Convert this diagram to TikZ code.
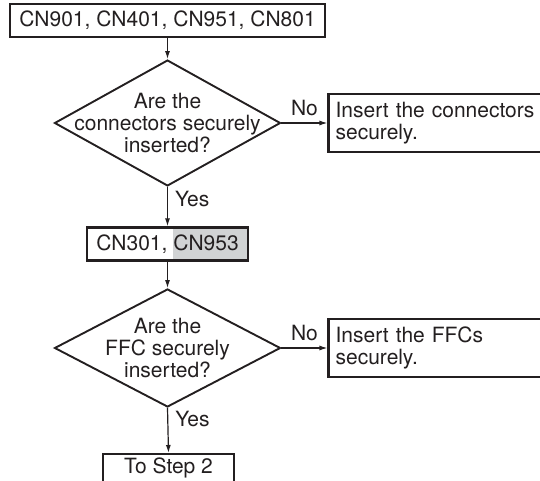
\documentclass[tikz,border=0pt]{standalone}
\usepackage{fontspec}
\setmainfont{TeX Gyre Heros}
\usepackage{xcolor}
\definecolor{inkblack}{RGB}{35,31,32}
\definecolor{markgray}{RGB}{209,211,212}
\usepackage{tikz}
\usetikzlibrary{arrows.meta, positioning, shapes.geometric, calc, backgrounds}

\begin{document}
\begin{tikzpicture}[
  x=1pt, y=-1pt,
  every node/.style={font=\fontsize{21}{22}\selectfont, text=inkblack},
  conn/.style={
    rectangle, draw=inkblack, line width=2.3pt,
    minimum height=33pt, inner xsep=9pt
  },
  check/.style={
    diamond, draw=inkblack, line width=1.9pt,
    minimum width=226pt, minimum height=118pt,
    inner sep=-30pt, align=center
  },
  fix/.style={
    rectangle, draw=inkblack, line width=2.3pt, anchor=west,
    minimum height=58pt, text width=250pt, inner sep=7pt, align=left
  },
  arr/.style={-{Latex[length=8pt,width=5pt]}, line width=1.2pt, draw=inkblack},
  lbl/.style={inner sep=7pt},
]
\useasboundingbox (0,0) rectangle (540,481);

%% Connectors
\node[conn]  (ports)     at (167.5, 20.5) {CN901, CN401, CN951, CN801};
\node[check] (seated)    at (167.5,123)   {Are the\\connectors securely\\inserted?};
\node[fix, right=46pt of seated] (reseat) {Insert the connectors\\securely.};

%% FFCs
\node[conn]  (ffcports)  at (167.5,244)   {CN301, CN953};
\node[check] (ffcseated) at (167.5,348)   {Are the\\FFC securely\\inserted?};
\node[fix, right=46pt of ffcseated] (ffcfix) {Insert the FFCs\\securely.};
\node[conn, anchor=north, text depth=24pt, inner ysep=4pt, minimum width=131pt]
             (next)      at (168.5,453)   {To Step 2};

%% Highlight behind CN953
\begin{scope}[on background layer]
  \fill[markgray] ($(ffcports.north east)+(-76,0)$) rectangle (ffcports.south east);
\end{scope}

%% Arrows
\draw[arr] (ports.south)     -- (seated.north);
\draw[arr] (seated.east)     -- node[lbl, above] {No} (reseat.west);
\draw[arr] (seated.south)    -- node[lbl, right, pos=0.3] {Yes} (ffcports.north);
\draw[arr] (ffcports.south)  -- (ffcseated.north);
\draw[arr] (ffcseated.east)  -- node[lbl, above] {No} (ffcfix.west);
\draw[arr] (ffcseated.south) -- node[lbl, right, pos=0.25] {Yes} (next.north);

\end{tikzpicture}
\end{document}
